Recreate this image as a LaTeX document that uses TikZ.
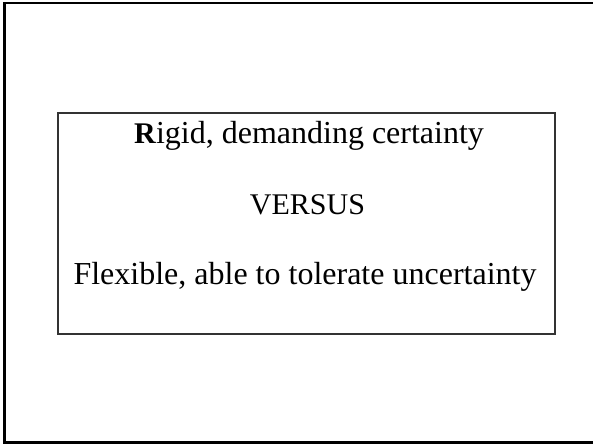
\documentclass[tikz,border=0pt]{standalone}
\usepackage{fontspec}
\setmainfont{Liberation Serif}
\begin{document}
\begin{tikzpicture}[x=0.75pt,y=-0.75pt,
  frameline/.style={draw=black,line width=1.9pt},
  panel/.style={draw=black!80,line width=1pt,inner sep=0pt,
    minimum width=497*0.75pt,minimum height=221*0.75pt},
  caption/.style={anchor=base,inner sep=0pt,text=black}]
  \useasboundingbox (0,0) rectangle (593,445);
  % outer slide frame (right side runs off the page)
  \draw[frameline] (4.5,3) rectangle (610,442.5);
  % inner panel
  \node[panel] (panel) at (306.5,223.5) {};
  % three lines of text
  \node[caption] (rigid) at (309,144)
    {\fontsize{22.5}{27}\selectfont\textbf{R}\fontsize{24}{29}\selectfont igid, demanding certainty};
  \node[caption] (versus) at (307.5,215)
    {\fontsize{22.5}{27}\selectfont VERSUS};
  \node[caption] (flex) at (305,285)
    {\fontsize{24}{29}\selectfont Flexible, able to tolerate uncertainty};
\end{tikzpicture}
\end{document}
